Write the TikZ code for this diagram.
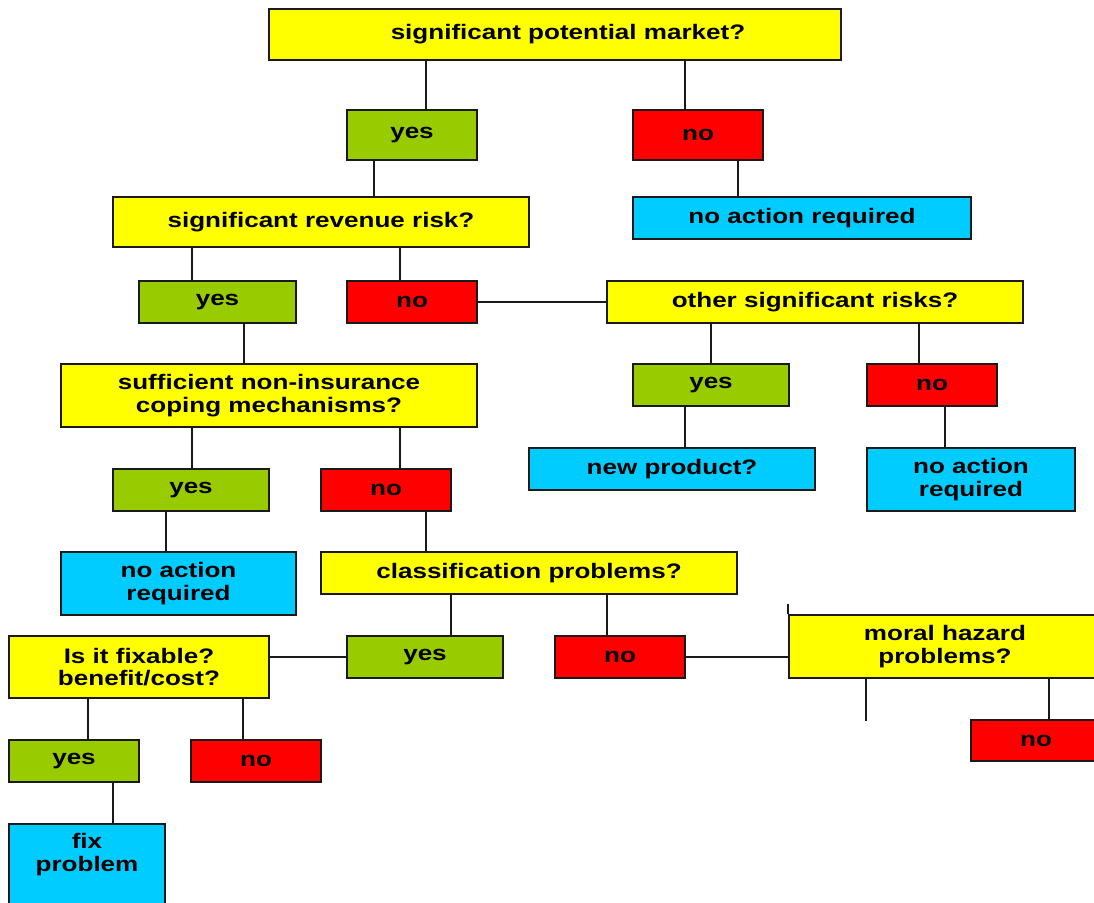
\documentclass[tikz,border=0pt]{standalone}
\usepackage{fontspec}
\setmainfont{Liberation Sans}[FakeStretch=1.24]
\definecolor{qyel}{HTML}{FFFF00}
\definecolor{ygreen}{HTML}{99CC00}
\definecolor{nred}{HTML}{FF0000}
\definecolor{ablue}{HTML}{00CCFF}
\definecolor{edge}{HTML}{1A1A1A}
\begin{document}
\begin{tikzpicture}[x=1pt,y=-1pt,
  box/.style={draw=edge, line width=1.8pt, inner sep=0pt, align=center,
    font=\fontsize{21}{22.5}\selectfont\bfseries, text=black},
  sz/.style 2 args={minimum width=#1pt, minimum height=#2pt},
  qbox/.style={box, fill=qyel},
  ybox/.style={box, fill=ygreen},
  nbox/.style={box, fill=nred},
  abox/.style={box, fill=ablue},
  con/.style={line width=1.7pt, draw=edge},
  txt/.style={inner sep=0pt, align=center, font=\fontsize{21}{22.5}\selectfont\bfseries}]
\clip (0,0) rectangle (1094,902);
\fill[white] (0,0) rectangle (1094,902);
% nodes
\node[qbox, sz={572}{51}] (q1) at (555,34.5) {\hspace*{26pt}significant potential market?};
\node[ybox, sz={130}{50}] (yes1) at (412,135) {yes};
\node[nbox, sz={130}{50}] (no1) at (698,135) {no};
\node[abox, sz={338}{42}] (nar1) at (802,218) {no action required};
\node[qbox, sz={416}{50}] (q2) at (321,222) {significant revenue risk?};
\node[ybox, sz={157}{42}] (yes2) at (217.5,302) {yes};
\node[nbox, sz={130}{42}] (no2) at (412,302) {no};
\node[qbox, sz={416}{42}] (q3) at (815,302) {other significant risks?};
\node[ybox, sz={156}{42}] (yes3) at (711,385) {yes};
\node[nbox, sz={130}{42}] (no3) at (932,385) {no};
\node[abox, sz={286}{42}] (np) at (672,469) {new product?};
\node[abox, sz={208}{63}] (nar2) at (971,479.5) {no action\\required};
\node[qbox, sz={416}{63}] (q4) at (269,395.5) {sufficient non-insurance\\coping mechanisms?};
\node[ybox, sz={156}{42}] (yes4) at (191,490) {yes};
\node[nbox, sz={130}{42}] (no4) at (386,490) {no};
\node[abox, sz={235}{63}] (nar3) at (178.5,583.5) {no action\\required};
\node[qbox, sz={416}{42}] (q5) at (529,573) {classification problems?};
\node[ybox, sz={156}{42}] (yes5) at (425,657) {yes};
\node[nbox, sz={130}{42}] (no5) at (620,657) {no};
\node[qbox, sz={260}{62}] (q6) at (139,667) {Is it fixable?\\benefit/cost?};
\node[qbox, sz={312}{63}] (q7) at (945,646.5) {moral hazard\\problems?};
\node[nbox, sz={130}{41}] (no6) at (1036,740.5) {no};
\node[ybox, sz={130}{42}] (yes6) at (74,761) {yes};
\node[nbox, sz={130}{42}] (no7) at (256,761) {no};
\node[abox, sz={156}{95}, anchor=north] (fix) at (87,823) {};
\node[txt] (fixt) at (87,854.5) {fix\\problem};
% connectors
\draw[con] (yes1.north) ++(14,0) coordinate (a1) -- (a1 |- q1.south);
\draw[con] (no1.north) ++(-13,0) coordinate (a2) -- (a2 |- q1.south);
\draw[con] (no1.south) ++(40,0) coordinate (a3) -- (a3 |- nar1.north);
\draw[con] (yes1.south) ++(-38,0) coordinate (a4) -- (a4 |- q2.north);
\draw[con] (yes2.north) ++(-25.5,0) coordinate (a5) -- (a5 |- q2.south);
\draw[con] (no2.north) ++(-12,0) coordinate (a6) -- (a6 |- q2.south);
\draw[con] (no2.east) -- (q3.west);
\draw[con] (yes3.north) -- (yes3.north |- q3.south);
\draw[con] (no3.north) ++(-13,0) coordinate (a7) -- (a7 |- q3.south);
\draw[con] (np.north) ++(13,0) coordinate (a8) -- (a8 |- yes3.south);
\draw[con] (no3.south) ++(13,0) coordinate (a9) -- (a9 |- nar2.north);
\draw[con] (q4.north) ++(-25,0) coordinate (a10) -- (a10 |- yes2.south);
\draw[con] (yes4.north) ++(1,0) coordinate (a11) -- (a11 |- q4.south);
\draw[con] (no4.north) ++(14,0) coordinate (a12) -- (a12 |- q4.south);
\draw[con] (yes4.south) ++(-25,0) coordinate (a13) -- (a13 |- nar3.north);
\draw[con] (no4.south) ++(40,0) coordinate (a14) -- (a14 |- q5.north);
\draw[con] (yes5.north) ++(26,0) coordinate (a15) -- (a15 |- q5.south);
\draw[con] (no5.north) ++(-13,0) coordinate (a16) -- (a16 |- q5.south);
\draw[con] (yes5.west) -- (yes5.west -| q6.east);
\draw[con] (no5.east) -- (no5.east -| q7.west);
\draw[con] (q7.north west) -- ++(0,-10) coordinate (t1);
\draw[con] (q7.south west) ++(78,0) coordinate (a17) -- ++(0,42) coordinate (t2);
\draw[con] (no6.north) ++(13,0) coordinate (a18) -- (a18 |- q7.south);
\draw[con] (yes6.north) ++(14,0) coordinate (a19) -- (a19 |- q6.south);
\draw[con] (no7.north) ++(-13,0) coordinate (a20) -- (a20 |- q6.south);
\draw[con] (yes6.south) ++(39,0) coordinate (a21) -- (a21 |- fix.north);
\end{tikzpicture}
\end{document}
